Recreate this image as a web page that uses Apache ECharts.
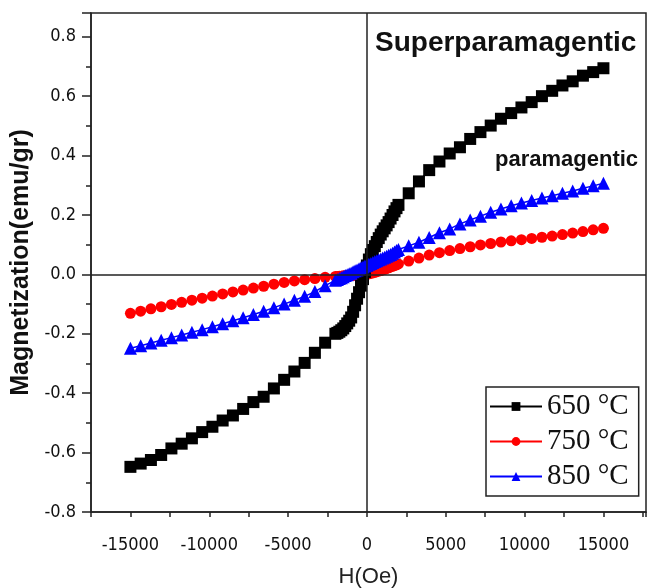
<!doctype html>
<html lang="en">
<head>
    <meta charset="UTF-8">
    <script src="https://cdn.jsdelivr.net/npm/echarts@6/dist/echarts.min.js"></script>
    <title>M-H curves</title>
    <style>
        html, body { margin: 0; padding: 0; background: #fff; }
    </style>
</head>
<body>
<div id="mh-chart" style="width: 649px;height:588px;"></div>
<script>
    // field values (Oe), shared by the three samples
    var fieldOe = [
        -15000, -14350, -13700, -13050, -12400, -11750, -11100, -10450, -9800, -9150,
        -8500, -7850, -7200, -6550, -5900, -5250, -4600, -3950, -3300, -2650, -2000,
        -1875, -1750, -1625, -1500, -1375, -1250, -1125, -1000, -875, -750, -625, -500, -375, -250, -125,
        0,
        125, 250, 375, 500, 625, 750, 875, 1000, 1125, 1250, 1375, 1500, 1625, 1750, 1875,
        2000, 2650, 3300, 3950, 4600, 5250, 5900, 6550, 7200, 7850, 8500,
        9150, 9800, 10450, 11100, 11750, 12400, 13050, 13700, 14350, 15000
    ];

    // magnetization (emu/gr)
    var m650 = [
        -0.648, -0.637, -0.625, -0.608, -0.586, -0.570, -0.552, -0.531, -0.513, -0.492,
        -0.475, -0.453, -0.430, -0.412, -0.384, -0.355, -0.327, -0.298, -0.264, -0.230, -0.200,
        -0.197, -0.193, -0.188, -0.182, -0.174, -0.165, -0.156, -0.145, -0.126, -0.104, -0.082, -0.060, -0.038, -0.016, 0.008,
        0.030,
        0.050, 0.068, 0.082, 0.095, 0.109, 0.122, 0.134, 0.145, 0.155, 0.165, 0.176, 0.188, 0.200, 0.212, 0.223,
        0.234, 0.273, 0.313, 0.351, 0.380, 0.407, 0.428, 0.456, 0.479, 0.501, 0.524,
        0.543, 0.562, 0.580, 0.600, 0.618, 0.636, 0.650, 0.669, 0.681, 0.694
    ];
    var m750 = [
        -0.131, -0.124, -0.116, -0.109, -0.101, -0.094, -0.087, -0.080, -0.073, -0.066,
        -0.059, -0.053, -0.046, -0.040, -0.033, -0.027, -0.022, -0.018, -0.014, -0.010, -0.007,
        -0.007, -0.006, -0.006, -0.005, -0.005, -0.004, -0.004, -0.004, -0.003, -0.003, -0.002, -0.002, -0.001, -0.001, 0.000,
        0.000,
        0.002, 0.004, 0.005, 0.007, 0.009, 0.011, 0.013, 0.015, 0.017, 0.020, 0.022, 0.025, 0.027, 0.030, 0.032,
        0.035, 0.045, 0.055, 0.065, 0.073, 0.080, 0.087, 0.093, 0.099, 0.104, 0.109,
        0.113, 0.117, 0.121, 0.125, 0.129, 0.134, 0.139, 0.144, 0.150, 0.155
    ];
    var m850 = [
        -0.249, -0.240, -0.231, -0.222, -0.213, -0.204, -0.195, -0.186, -0.176, -0.166,
        -0.156, -0.146, -0.135, -0.124, -0.112, -0.100, -0.087, -0.074, -0.058, -0.038, -0.020,
        -0.017, -0.014, -0.011, -0.008, -0.004, -0.001, 0.002, 0.005, 0.009, 0.012, 0.015, 0.019, 0.022, 0.025, 0.028,
        0.031,
        0.034, 0.037, 0.040, 0.043, 0.046, 0.049, 0.052, 0.055, 0.058, 0.061, 0.064, 0.067, 0.071, 0.075, 0.080,
        0.084, 0.096, 0.108, 0.124, 0.140, 0.153, 0.170, 0.183, 0.196, 0.209, 0.220,
        0.231, 0.240, 0.249, 0.257, 0.265, 0.273, 0.281, 0.290, 0.298, 0.307
    ];

    var seriesNames = ['650 °C', '750 °C', '850 °C'];

    function pairs(values) {
        return fieldOe.map(function (h, i) { return [h, values[i]]; });
    }

    var myChart = echarts.init(document.getElementById('mh-chart'));
    var tickFont = '"DejaVu Sans Condensed", "Liberation Sans Narrow", "Liberation Sans", sans-serif';

    var option = {
        animation: false,
        backgroundColor: '#fff',
        grid: {
            left: 91, top: 13, right: 3, bottom: 76,
            outerBoundsMode: 'none',
            show: true, borderColor: '#222', borderWidth: 1.5
        },
        legend: {
            data: seriesNames,
            orient: 'vertical',
            left: 486, top: 387,
            padding: [5, 10, 5, 3],
            itemWidth: 52, itemHeight: 11, itemGap: 6,
            borderColor: '#222', borderWidth: 1.5,
            textStyle: {fontFamily: 'Liberation Serif, serif', fontSize: 29, lineHeight: 26, color: '#111'}
        },
        xAxis: {
            type: 'value',
            min: -17500, max: 17700, interval: 2500,
            name: 'H(Oe)', nameLocation: 'middle', nameGap: 54,
            nameTextStyle: {fontFamily: 'Liberation Sans, Arial, sans-serif', fontSize: 22, color: '#222'},
            splitLine: {show: false},
            axisLine: {onZero: false, lineStyle: {color: '#222', width: 1.5}},
            axisTick: {inside: false, length: 5, lineStyle: {color: '#222', width: 1.5}},
            axisLabel: {
                margin: 24, color: '#111', fontFamily: tickFont, fontSize: 18,
                formatter: function (v) { return (Math.round(v) % 5000 === 0) ? String(Math.round(v)) : ''; }
            }
        },
        yAxis: {
            type: 'value',
            min: -0.8, max: 0.88, interval: 0.2,
            name: 'Magnetization(emu/gr)', nameLocation: 'middle', nameGap: 55,
            nameTextStyle: {fontFamily: 'Liberation Sans, Arial, sans-serif', fontSize: 25, fontWeight: 'bold', color: '#111'},
            splitLine: {show: false},
            axisLine: {onZero: false, lineStyle: {color: '#222', width: 1.5}},
            axisTick: {inside: false, length: 9, lineStyle: {color: '#222', width: 1.5}},
            minorTick: {show: true, splitNumber: 2, length: 5, lineStyle: {color: '#222', width: 1.5}},
            axisLabel: {
                margin: 15, color: '#111', fontFamily: tickFont, fontSize: 18,
                showMaxLabel: false,
                formatter: function (v) { return v > 0.85 ? '' : v.toFixed(1); }
            }
        },
        graphic: [
            {type: 'text', left: 375, top: 29,
             style: {text: 'Superparamagentic', fill: '#111', font: 'bold 28px Liberation Sans, Arial, sans-serif'}},
            {type: 'text', left: 495, top: 149,
             style: {text: 'paramagentic', fill: '#111', font: 'bold 22px Liberation Sans, Arial, sans-serif'}}
        ],
        series: [
            {
                name: seriesNames[0], type: 'line', z: 3,
                data: pairs(m650),
                symbol: 'rect', symbolSize: 12,
                itemStyle: {color: '#000'}, lineStyle: {color: '#000', width: 1.5},
                markLine: {
                    silent: true, symbol: 'none', label: {show: false},
                    lineStyle: {color: '#222', width: 1.5, type: 'solid'},
                    data: [{xAxis: 0}, {yAxis: 0}]
                }
            },
            {
                name: seriesNames[1], type: 'line', z: 2,
                data: pairs(m750),
                symbol: 'circle', symbolSize: 11,
                itemStyle: {color: '#ff0000'}, lineStyle: {color: '#ff0000', width: 1.5}
            },
            {
                name: seriesNames[2], type: 'line', z: 4,
                data: pairs(m850),
                symbol: 'triangle', symbolSize: 13,
                itemStyle: {color: '#0000ff'}, lineStyle: {color: '#0000ff', width: 1.5}
            }
        ]
    };

    myChart.setOption(option);
</script>
</body>
</html>
